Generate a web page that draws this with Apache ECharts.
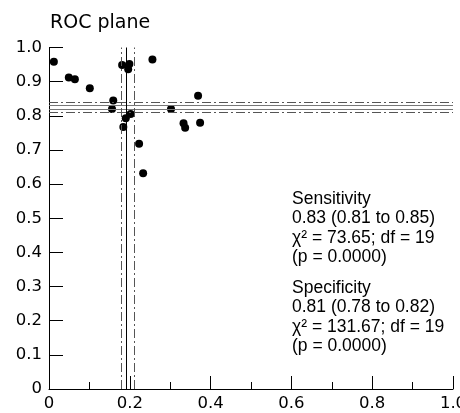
<!DOCTYPE html>
<html>
<head>
<meta charset="utf-8">
<script src="https://cdn.jsdelivr.net/npm/echarts@6/dist/echarts.min.js"></script>
<style>
  html, body { margin: 0; padding: 0; background: #fff; }
  #chart { width: 460px; height: 413px; }
</style>
</head>
<body>
<div id="chart"></div>
<script>
// study points: 1 - specificity (x), sensitivity (y)
const fpr = [0.012, 0.049, 0.064, 0.101, 0.159, 0.156, 0.181, 0.199, 0.196, 0.256,
             0.184, 0.190, 0.202, 0.223, 0.233, 0.302, 0.369, 0.333, 0.337, 0.374]
const sens = [0.958, 0.912, 0.907, 0.881, 0.845, 0.820, 0.949, 0.952, 0.936, 0.965,
              0.767, 0.793, 0.805, 0.718, 0.632, 0.820, 0.859, 0.778, 0.765, 0.780]
// pooled sensitivity (horizontal) and 1 - pooled specificity (vertical)
const sensPooled = [0.822, 0.829]
const sensCI = [0.809, 0.845]
const fprPooled = 0.194
const fprCI = [0.178, 0.211]

const sensText = ['Sensitivity', '0.83 (0.81 to 0.85)', 'χ² = 73.65; df = 19', '(p = 0.0000)']
const specText = ['Specificity', '0.81 (0.78 to 0.82)', 'χ² = 131.67; df = 19', '(p = 0.0000)']

const tickFont = 'DejaVu Sans'
const textFont = 'Liberation Sans'
const dashDot = [9, 3, 2, 3]

let points = fpr.map((x, i) => [x, sens[i]])

let lines = []
sensPooled.forEach(v => {
  lines.push({ yAxis: v, lineStyle: { color: '#777', width: 1, type: 'solid' } })
})
sensCI.forEach(v => {
  lines.push({ yAxis: v, lineStyle: { color: '#555', width: 1, type: dashDot } })
})
lines.push({ xAxis: fprPooled, lineStyle: { color: '#000', width: 1, type: 'solid' } })
fprCI.forEach(v => {
  lines.push({ xAxis: v, lineStyle: { color: '#555', width: 1, type: dashDot } })
})

function textLines(list, top) {
  return list.map((t, i) => ({
    type: 'text',
    left: 292,
    top: top + i * 19.5,
    style: { text: t, fontFamily: textFont, fontSize: 17.5, fill: '#000' }
  }))
}

const myChart = echarts.init(document.getElementById('chart'), null, { renderer: 'canvas' })
myChart.setOption({
  animation: false,
  backgroundColor: '#fff',
  grid: { left: 49, right: 7, top: 47.5, bottom: 24, containLabel: false, outerBoundsMode: 'none' },
  xAxis: {
    type: 'value',
    min: 0,
    max: 1,
    interval: 0.2,
    axisLine: { lineStyle: { color: '#000', width: 1 } },
    axisTick: { inside: true, length: 13, lineStyle: { color: '#000' } },
    minorTick: { show: true, splitNumber: 2, length: 7, lineStyle: { color: '#000' } },
    splitLine: { show: false },
    axisLabel: {
      margin: 6,
      color: '#000',
      fontFamily: tickFont,
      fontSize: 16.5,
      hideOverlap: false,
      formatter: v => (v === 0 ? '0' : v.toFixed(1))
    }
  },
  yAxis: {
    type: 'value',
    min: 0,
    max: 1,
    interval: 0.1,
    axisLine: { show: true, lineStyle: { color: '#000', width: 1 } },
    axisTick: { show: true, inside: true, length: 14, lineStyle: { color: '#000' } },
    splitLine: { show: false },
    axisLabel: {
      margin: 7,
      color: '#000',
      fontFamily: tickFont,
      fontSize: 16.5,
      formatter: v => (v === 0 ? '0' : v.toFixed(1))
    }
  },
  graphic: [
    {
      type: 'text',
      left: 50,
      top: 14,
      style: { text: 'ROC plane', fontFamily: tickFont, fontSize: 19, fill: '#000' }
    },
    ...textLines(sensText, 190),
    ...textLines(specText, 279)
  ],
  series: [
    {
      type: 'scatter',
      data: points,
      symbol: 'circle',
      symbolSize: 8,
      itemStyle: { color: '#000', opacity: 1 },
      markLine: {
        silent: true,
        symbol: 'none',
        label: { show: false },
        data: lines
      },
      z: 3
    }
  ]
})
</script>
</body>
</html>
